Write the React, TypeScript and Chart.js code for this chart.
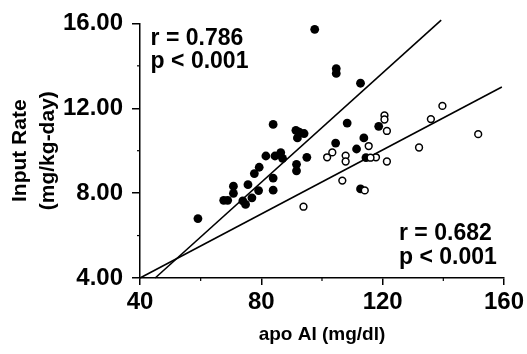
import React, { useEffect, useRef } from "react";
import { Chart, registerables } from "chart.js";

Chart.register(...registerables);

// Filled circles: group 1 (apo AI mg/dl, input rate mg/kg-day)
const filledX = [59.1, 67.6, 68.9, 70.8, 70.8, 73.9, 74.8, 75.6, 76.9, 77.7, 79.3, 79.1, 81.5, 83.9, 83.9, 84.5, 86.4, 87.0, 91.6, 91.6, 95.0, 83.9, 91.4, 92.5, 94.1, 91.9, 97.6, 104.7, 104.7, 112.7, 108.3, 118.7, 104.5, 113.8, 111.4, 114.5, 112.7];
const filledY = [6.8, 7.66, 7.66, 8.33, 7.99, 7.63, 7.47, 8.4, 7.78, 8.92, 9.22, 8.12, 9.75, 8.71, 8.14, 9.75, 9.91, 9.64, 9.36, 9.05, 9.69, 11.24, 10.96, 10.88, 10.81, 10.6, 15.72, 13.87, 13.64, 13.18, 11.3, 11.15, 10.36, 10.6, 10.08, 9.67, 8.2];

// Open circles: group 2
const openX = [120.6, 120.6, 121.4, 139.7, 135.9, 151.5, 132.0, 115.4, 121.4, 117.8, 116.0, 103.4, 101.7, 107.8, 107.8, 106.7, 114.1, 93.9];
const openY = [11.66, 11.47, 10.93, 12.11, 11.49, 10.78, 10.15, 10.22, 9.49, 9.69, 9.67, 9.92, 9.69, 9.77, 9.49, 8.59, 8.13, 7.36];

// Regression lines (end points)
const line1X = [45, 139.3];
const line1Y = [4, 16.15];
const line2X = [40, 159.3];
const line2Y = [4, 13.0];

const xTicks = [40, 80, 120, 160];
const yTicks = [4, 8, 12, 16];
const xMinor = [60, 100, 140];
const yMinor = [6, 10, 14];

const stats1 = ["r = 0.786", "p < 0.001"];
const stats2 = ["r = 0.682", "p < 0.001"];
const stats1Pos = { x: 43.5, y: [15.28, 14.22] };
const stats2Pos = { x: 125.4, y: [6.08, 4.98] };

const FONT = "'Liberation Sans', Arial, Helvetica, sans-serif";

const toPts = (xs: number[], ys: number[]) => xs.map((x, i) => ({ x, y: ys[i] }));

export default function App() {
  const ref = useRef<HTMLCanvasElement | null>(null);
  useEffect(() => {
    if (!ref.current) return;
    const extras = {
      id: "extras",
      afterDraw(chart: any) {
        const ctx = chart.ctx;
        const xs = chart.scales.x;
        const ys = chart.scales.y;
        ctx.save();
        ctx.strokeStyle = "#000";
        ctx.lineWidth = 1.2;
        const bottom = chart.chartArea.bottom;
        const left = chart.chartArea.left;
        xMinor.forEach((v) => {
          const px = xs.getPixelForValue(v);
          ctx.beginPath();
          ctx.moveTo(px, bottom);
          ctx.lineTo(px, bottom + 3);
          ctx.stroke();
        });
        yMinor.forEach((v) => {
          const py = ys.getPixelForValue(v);
          ctx.beginPath();
          ctx.moveTo(left, py);
          ctx.lineTo(left - 3, py);
          ctx.stroke();
        });
        ctx.fillStyle = "#000";
        ctx.font = `bold 23px ${FONT}`;
        ctx.textBaseline = "middle";
        ctx.textAlign = "left";
        stats1.forEach((t, i) => {
          ctx.fillText(t, xs.getPixelForValue(stats1Pos.x), ys.getPixelForValue(stats1Pos.y[i]));
        });
        stats2.forEach((t, i) => {
          ctx.fillText(t, xs.getPixelForValue(stats2Pos.x), ys.getPixelForValue(stats2Pos.y[i]));
        });
        ctx.restore();
      },
    };
    const chart = new Chart(ref.current, {
      type: "scatter",
      data: {
        datasets: [
          {
            label: "line1",
            data: toPts(line1X, line1Y),
            showLine: true,
            borderColor: "#000",
            borderWidth: 1.6,
            pointRadius: 0,
            clip: false as any,
            order: 3,
          },
          {
            label: "line2",
            data: toPts(line2X, line2Y),
            showLine: true,
            borderColor: "#000",
            borderWidth: 1.6,
            pointRadius: 0,
            clip: false as any,
            order: 3,
          },
          {
            label: "filled",
            data: toPts(filledX, filledY),
            pointRadius: 4.4,
            pointBackgroundColor: "#000",
            pointBorderColor: "#000",
            pointBorderWidth: 0,
            order: 2,
          },
          {
            label: "open",
            data: toPts(openX, openY),
            pointRadius: 3.4,
            pointBackgroundColor: "#fff",
            pointBorderColor: "#000",
            pointBorderWidth: 1.5,
            order: 1,
          },
        ],
      },
      options: {
        responsive: false,
        animation: false,
        layout: { padding: { left: 0, right: 21, top: 20, bottom: 0 } },
        plugins: { legend: { display: false }, tooltip: { enabled: false } },
        scales: {
          x: {
            type: "linear",
            min: 40,
            max: 160,
            afterBuildTicks: (s: any) => {
              s.ticks = xTicks.map((v) => ({ value: v }));
            },
            afterFit: (s: any) => {
              s.height = 76;
            },
            ticks: {
              color: "#000",
              font: { family: FONT, size: 24, weight: "bold" },
              padding: 3,
              maxRotation: 0,
              callback: (v: any) => String(v),
            },
            grid: { drawOnChartArea: false, drawTicks: true, tickLength: 7, color: "#000", lineWidth: 1.5 },
            border: { display: true, color: "#000", width: 1.5 },
            title: {
              display: true,
              text: "apo AI (mg/dl)",
              color: "#000",
              font: { family: FONT, size: 19, weight: "bold" },
              padding: { top: 0, bottom: 8 },
            },
          },
          y: {
            type: "linear",
            min: 4,
            max: 16,
            afterBuildTicks: (s: any) => {
              s.ticks = yTicks.map((v) => ({ value: v }));
            },
            afterFit: (s: any) => {
              s.width = 140;
            },
            ticks: {
              color: "#000",
              font: { family: FONT, size: 24, weight: "bold" },
              padding: 9,
              callback: (v: any) => Number(v).toFixed(2),
            },
            grid: { drawOnChartArea: false, drawTicks: true, tickLength: 8, color: "#000", lineWidth: 1.5 },
            border: { display: true, color: "#000", width: 1.5 },
            title: {
              display: true,
              text: ["Input Rate", "(mg/kg-day)"],
              color: "#000",
              font: { family: FONT, size: 21, weight: "bold", lineHeight: 1.33 },
              padding: { top: 6, bottom: 0 },
            },
          },
        },
      },
      plugins: [extras],
    });
    return () => chart.destroy();
  }, []);
  return (
    <div style={{ position: "absolute", left: 0, top: 0, width: 527, height: 354, background: "#fff" }}>
      <canvas ref={ref} width={527} height={354} style={{ display: "block", width: 527, height: 354 }} />
    </div>
  );
}
